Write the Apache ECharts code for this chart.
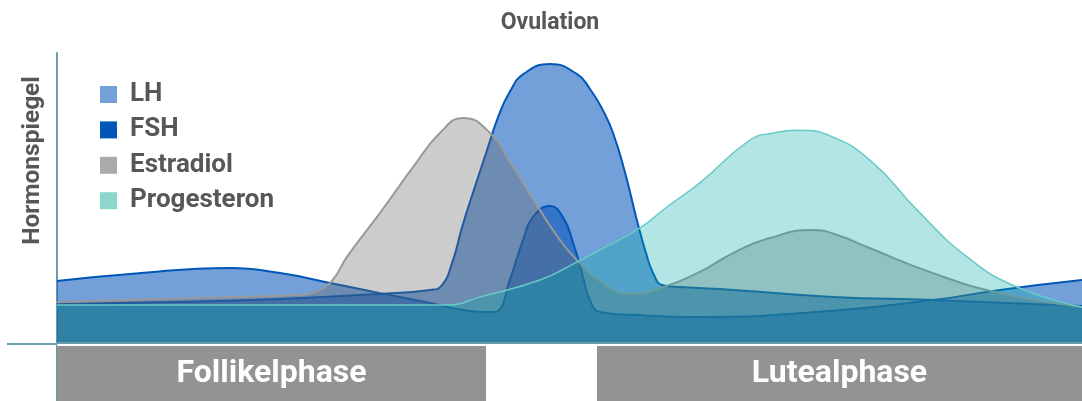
<!DOCTYPE html>
<html>
<head>
<meta charset="utf-8">
<script src="https://cdn.jsdelivr.net/npm/echarts@6/dist/echarts.min.js"></script>
<style>
html,body{margin:0;padding:0;background:#fff;}
#c{width:1082px;height:401px;}
</style>
</head>
<body>
<div id="c"></div>
<script>
// x = cycle day (0..28), y = relative hormone level (0..100)
const seriesNames = ['LH', 'FSH', 'Estradiol', 'Progesteron'];
const lhData = [[0,13.4],[3.1,14.1],[6.1,15.2],[8.8,16.9],[10.2,18.3],[10.5,19.7],[10.8,27.9],[11.06,39.7],[11.36,51.7],[11.75,66.6],[12.05,77.9],[12.37,86.6],[12.75,92.8],[13.47,96.2],[14.2,92.8],[14.56,87.6],[14.91,80.3],[15.19,72.4],[15.52,58.6],[15.82,43.4],[16.09,31.0],[16.31,23.4],[16.53,20.0],[17.02,19.3],[18.47,18.3],[21.2,15.9],[23.93,14.8],[28,12.8]];
const fshData = [[0,21.4],[2.0,23.8],[4.73,25.9],[6.09,24.1],[7.46,20.7],[8.82,17.2],[10.19,13.8],[11.09,11.4],[11.91,10.7],[12.05,11.0],[12.37,21.7],[12.73,35.5],[13.0,43.4],[13.47,47.2],[13.82,43.4],[14.1,34.5],[14.34,24.1],[14.56,14.8],[14.83,10.7],[15.73,9.7],[17.56,9.0],[20.76,10.7],[23.93,14.8],[25.76,18.3],[28,21.7]];
const estradiolData = [[0,14.1],[3.91,15.5],[6.64,16.6],[7.05,17.6],[7.51,21.4],[7.92,29.7],[8.82,44.8],[9.73,60.7],[10.46,72.4],[11.09,77.6],[11.75,73.4],[12.46,60.7],[13.19,45.9],[13.74,35.5],[14.2,28.6],[14.83,21.4],[15.65,16.9],[16.66,19.7],[17.56,24.5],[18.47,31.0],[19.48,36.2],[20.65,39.0],[21.39,36.9],[22.13,33.1],[23.93,24.1],[25.76,17.2],[28,12.4]];
const progesteronData = [[0,13.1],[5,13.1],[10.65,13.1],[11.56,15.9],[13.19,21.7],[14.2,27.9],[14.83,32.1],[15.93,39.7],[16.66,46.9],[17.56,55.2],[18.93,70.0],[19.56,72.4],[20.21,73.4],[21.2,71.0],[22.29,62.1],[23.49,45.9],[24.86,29.7],[26.22,19.3],[28,12.4]];
const phaseNames = ['Follikelphase', 'Lutealphase'];
const phaseStart = [0, 14.75];
const phaseEnd = [11.72, 28];
const topLabel = 'Ovulation';
const yTitle = 'Hormonspiegel';

const legendColors = ['#72a1d9', '#0057b8', '#aaaaaa', '#8dd6ce'];
const FONT = 'Roboto, "DejaVu Sans", sans-serif';
const AXIS = '#6b9aae';

const chart = echarts.init(document.getElementById('c'), null, {renderer: 'canvas'});

function areaSeries(name, data, fill, stroke, width, z) {
  return {
    name: name, type: 'line', data: data, smooth: 0.5,
    showSymbol: false, symbol: 'none', z: z, silent: true,
    xAxisIndex: 0, yAxisIndex: 0,
    lineStyle: {color: stroke, width: width},
    itemStyle: {color: stroke},
    areaStyle: {color: fill, opacity: 1, origin: 'start'}
  };
}

const option = {
  animation: false,
  legend: {
    orient: 'vertical', left: 95, top: 76.5,
    itemWidth: 17, itemHeight: 17, itemGap: 9.4,
    icon: 'rect', selectedMode: false,
    data: seriesNames.map((n, i) => ({name: n, icon: 'rect', itemStyle: {color: legendColors[i], borderWidth: 0}})),
    textStyle: {fontFamily: FONT, fontWeight: 'bold', fontSize: 26, color: '#575757', lineHeight: 26, padding: [0, 0, 0, 8]}
  },
  grid: [
    {left: 57, right: 0, top: 53, bottom: 58},
    {left: 57, right: 0, top: 346, bottom: 0}
  ],
  xAxis: [
    {type: 'value', gridIndex: 0, min: 0, max: 28,
     axisLine: {show: true, onZero: false, lineStyle: {color: AXIS, width: 2}},
     axisTick: {show: false}, axisLabel: {show: false}, splitLine: {show: false}, z: 10},
    {type: 'value', gridIndex: 1, min: 0, max: 28, show: false}
  ],
  yAxis: [
    {type: 'value', gridIndex: 0, min: 0, max: 100,
     axisLine: {show: true, lineStyle: {color: AXIS, width: 2}},
     axisTick: {show: false}, axisLabel: {show: false}, splitLine: {show: false}},
    {type: 'value', gridIndex: 1, min: 0, max: 1,
     axisLine: {show: true, lineStyle: {color: AXIS, width: 2}},
     axisTick: {show: false}, axisLabel: {show: false}, splitLine: {show: false}}
  ],
  series: [
    areaSeries('LH', lhData, 'rgba(0,82,185,0.55)', '#0057b8', 2, 2),
    areaSeries('FSH', fshData, 'rgba(0,82,185,0.55)', '#0057b8', 2, 3),
    areaSeries('Estradiol', estradiolData, 'rgba(100,100,100,0.33)', '#999999', 2, 4),
    areaSeries('Progesteron', progesteronData, 'rgba(0,168,162,0.3)', '#66cbc6', 1.5, 5),
    {
      name: 'phases', type: 'line', xAxisIndex: 1, yAxisIndex: 1,
      data: [[0, 0]], symbol: 'none', lineStyle: {opacity: 0}, silent: true,
      markArea: {
        silent: true,
        itemStyle: {color: '#939393', opacity: 1},
        label: {show: true, position: 'inside', color: '#ffffff', fontFamily: FONT, fontWeight: 'bold', fontSize: 32},
        data: phaseNames.map((n, i) => [{name: n, xAxis: phaseStart[i]}, {xAxis: phaseEnd[i]}])
      }
    }
  ],
  graphic: [
    {type: 'text', x: 550, y: 23,
     style: {text: topLabel, fontFamily: FONT, fontWeight: 'bold', fontSize: 23, fill: '#575757', align: 'center', verticalAlign: 'middle'}},
    {type: 'text', x: 33, y: 160.5, rotation: Math.PI / 2,
     style: {text: yTitle, fontFamily: FONT, fontWeight: 'bold', fontSize: 24.5, fill: '#575757', align: 'center', verticalAlign: 'middle'}},
    {type: 'line', shape: {x1: 7, y1: 344, x2: 57, y2: 344}, style: {stroke: AXIS, lineWidth: 2}}
  ]
};
chart.setOption(option);
</script>
</body>
</html>
